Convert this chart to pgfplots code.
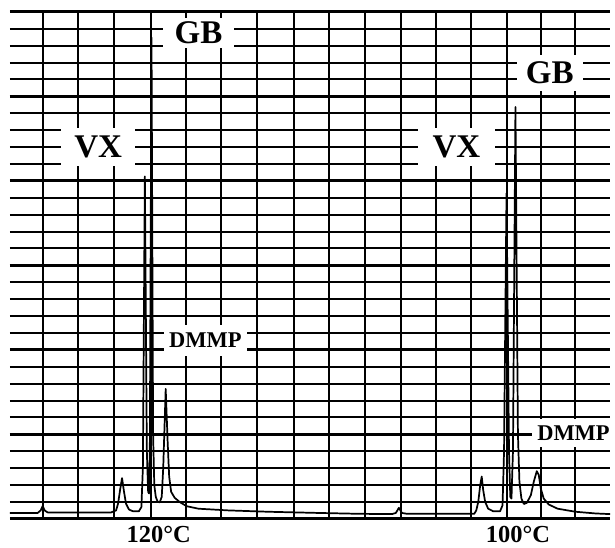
\documentclass[border=0pt]{standalone}
\usepackage{fontspec}
\setmainfont{Liberation Serif}
\usepackage{pgfplots}
\pgfplotsset{compat=1.18}
\begin{document}
\begin{tikzpicture}
\begin{axis}[
  scale only axis,
  width=453.75pt, height=383.25pt,
  xmin=10, xmax=615, ymin=0, ymax=30,
  clip=false,
  axis line style={draw=none},
  tick style={draw=none},
  xticklabels={}, yticklabels={},
  xtick={43,79,115,152,187,223,259,296,332,368,404,439,475,511,545,580},
  ytick={0,...,30},
  extra y ticks={0,5,10,15,20,25,30},
  extra y tick labels={},
  extra y tick style={grid=major, major grid style={black, line width=2.4pt}},
  grid=major,
  major grid style={black, line width=1.5pt},
]
% label patches (white background hides the chart paper grid)
\node[fill=white, inner xsep=9pt, inner ysep=3pt, font=\bfseries\fontsize{25}{30}\selectfont] at (axis cs:200,28.77) {GB};
\node[fill=white, inner xsep=10pt, inner ysep=6pt, font=\bfseries\fontsize{25}{30}\selectfont] at (axis cs:99,22.02) {VX};
\node[fill=white, inner xsep=7pt, inner ysep=5pt, font=\bfseries\fontsize{25}{30}\selectfont] at (axis cs:554,26.37) {GB};
\node[fill=white, inner xsep=11pt, inner ysep=6pt, font=\bfseries\fontsize{25}{30}\selectfont] at (axis cs:460,22.02) {VX};
\node[fill=white, inner xsep=4pt, inner ysep=6pt, font=\bfseries\fontsize{17}{20}\selectfont] at (axis cs:207,10.57) {DMMP};
\node[fill=white, inner xsep=4pt, inner ysep=5pt, font=\bfseries\fontsize{17}{20}\selectfont] at (axis cs:578,5.05) {DMMP};
\node[font=\bfseries\fontsize{18.5}{22}\selectfont] at (axis cs:160,-0.94) {120°C};
\node[font=\bfseries\fontsize{18.5}{22}\selectfont] at (axis cs:522,-0.94) {100°C};
% chromatogram trace
\addplot[black, line width=1.3pt, line join=round] coordinates {
(10,0.35) (38,0.35) (41,0.5) (43,0.76) (45,0.5) (48,0.38) (112,0.38)
(117,0.5) (119,0.9) (121,1.7) (123,2.41) (125,1.6) (127,0.9) (130,0.55) (134,0.45)
(140,0.45) (142.5,0.7) (144,3) (146,20.26) (148,4) (149.3,1.6) (150.2,1.5) (151,4)
(152.7,28.48) (154.3,5) (155.5,2.0) (157,1.3) (159,1.0) (161,0.98) (163,1.3)
(164.5,3) (167,7.69) (169,4.5) (170.5,2.5) (172.5,1.6) (176,1.25) (181,1.0)
(188,0.75) (200,0.6) (230,0.5) (270,0.42) (320,0.35) (360,0.3) (395,0.28)
(399,0.35) (402,0.65) (405,0.35) (410,0.3) (450,0.3) (478,0.3) (480,0.5)
(482,1.0) (484,2.0) (485.5,2.5) (487,1.7) (489,1.0) (492,0.6) (497,0.45)
(504,0.45) (506.5,0.8) (508,4) (510.5,19.26) (513,4) (514.3,1.3) (515.5,1.2)
(517,4) (519.5,24.37) (522,5) (523.5,2.2) (525.5,1.2) (528,0.88) (531,0.95)
(535,1.4) (538,2.2) (541,2.82) (543,2.6) (545,1.8) (548,1.2) (553,0.85)
(562,0.6) (580,0.42) (600,0.32) (615,0.28)
};
\path (axis cs:0,-1.53) rectangle (axis cs:615,30.7);
\end{axis}
\end{tikzpicture}
\end{document}
